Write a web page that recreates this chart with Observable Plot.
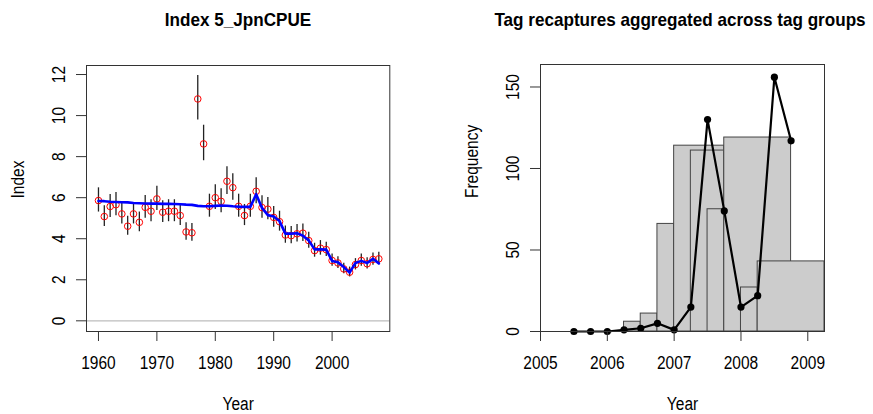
<!DOCTYPE html>
<html><head><meta charset="utf-8">
<script src="https://cdn.jsdelivr.net/npm/d3@7"></script>
<script src="https://cdn.jsdelivr.net/npm/@observablehq/plot@0.6"></script>
<style>
body{margin:0;background:#fff;}
#wrap{position:relative;width:873px;height:414px;overflow:hidden;font-family:"Liberation Sans",Arial,sans-serif;background:#fff;}
.panel{position:absolute;top:0;}
.title{position:absolute;top:9px;font-weight:bold;font-size:19px;line-height:22px;white-space:nowrap;transform:translateX(-50%) scaleX(0.9);color:#000;}
</style></head>
<body><div id="wrap"></div>
<script>
// ---------- Left panel: Index 5_JpnCPUE ----------
const years = [1960,1961,1962,1963,1964,1965,1966,1967,1968,1969,1970,1971,1972,1973,1974,1975,1976,1977,1978,1979,1980,1981,1982,1983,1984,1985,1986,1987,1988,1989,1990,1991,1992,1993,1994,1995,1996,1997,1998,1999,2000,2001,2002,2003,2004,2005,2006,2007,2008];
const observed = [5.86,5.08,5.57,5.66,5.21,4.61,5.21,4.80,5.53,5.34,5.94,5.29,5.34,5.34,5.13,4.33,4.29,10.81,8.62,5.58,6.00,5.82,6.80,6.49,5.58,5.13,5.58,6.31,5.52,5.44,5.04,4.83,4.18,4.15,4.24,4.27,3.91,3.42,3.54,3.47,2.94,2.82,2.53,2.37,2.74,2.94,2.78,2.99,3.02];
const upper = [6.48,5.61,6.15,6.25,5.76,5.09,5.76,5.30,6.11,5.90,6.56,5.85,5.90,5.90,5.67,4.78,4.74,11.95,9.53,6.17,6.63,6.43,7.51,7.17,6.17,5.67,6.17,6.97,6.10,6.01,5.57,5.34,4.62,4.59,4.69,4.72,4.32,3.78,3.91,3.83,3.25,3.12,2.80,2.62,3.03,3.25,3.07,3.30,3.34];
const lower = [5.30,4.60,5.04,5.12,4.72,4.17,4.72,4.34,5.00,4.83,5.38,4.79,4.83,4.83,4.64,3.92,3.88,9.78,7.80,5.05,5.43,5.27,6.15,5.87,5.05,4.64,5.05,5.71,5.00,4.92,4.56,4.37,3.78,3.76,3.84,3.86,3.54,3.10,3.20,3.14,2.66,2.55,2.29,2.14,2.48,2.66,2.52,2.71,2.73];
const fitted = [5.84,5.83,5.80,5.79,5.78,5.77,5.74,5.73,5.72,5.71,5.71,5.70,5.70,5.69,5.68,5.66,5.65,5.60,5.58,5.58,5.60,5.62,5.61,5.58,5.56,5.55,5.55,6.17,5.50,5.15,5.08,4.86,4.25,4.25,4.27,4.15,3.92,3.48,3.48,3.47,2.92,2.85,2.62,2.35,2.82,2.92,2.82,3.02,2.80];
const leftXTicks = [1960,1970,1980,1990,2000];
const leftYTicks = [0,2,4,6,8,10,12];

// ---------- Right panel: tag recaptures ----------
const tagTime = [2005.5,2005.75,2006,2006.25,2006.5,2006.75,2007,2007.25,2007.5,2007.75,2008,2008.25,2008.5,2008.75];
const tagCount = [0,0,0,1,2,5,1,15,130,74,15,22,156,117];
const barStart = [2006.25,2006.5,2006.75,2007.0,2007.25,2007.5,2007.75,2008.0,2008.25];
const barEnd   = [2006.5,2006.75,2007.0,2007.75,2007.75,2007.75,2008.75,2008.25,2009.25];
const barHeight = [6,11,66,114,111,75,119,27,43];
const rightXTicks = [2005,2006,2007,2008,2009];
const rightYTicks = [0,50,100,150];

const titles = ["Index 5_JpnCPUE", "Tag recaptures aggregated across tag groups"];

const idx = years.map((y,i)=>({year:y, obs:observed[i], hi:upper[i], lo:lower[i], fit:fitted[i]}));
const tags = tagTime.map((t,i)=>({t, n:tagCount[i]}));
const bars = barStart.map((s,i)=>({start:s, end:barEnd[i], h:barHeight[i]}));

const font = {fontFamily:"'Liberation Sans', Arial, sans-serif", fontSize:"18px", color:"#000", background:"transparent", overflow:"visible"};

function yLabels(ticks){
  return Plot.text(ticks,{y:d=>d, text:d=>String(d), frameAnchor:"left", dx:-27, rotate:-90, lineAnchor:"middle", textAnchor:"middle", fill:"#000"});
}

const leftPlot = Plot.plot({
  width:436, height:414,
  marginLeft:86, marginRight:46.7, marginTop:65, marginBottom:83,
  style:font,
  x:{domain:[1957.95,2009.88]},
  y:{domain:[-0.52,12.44]},
  marks:[
    Plot.ruleY([0],{stroke:"#bdbdbd", strokeWidth:1.2}),
    Plot.ruleX(idx,{x:"year", y1:"lo", y2:"hi", stroke:"#222", strokeWidth:1.3}),
    Plot.dot(idx,{x:"year", y:"obs", r:3.3, stroke:"red", fill:"none", strokeWidth:1}),
    Plot.line(idx,{x:"year", y:"fit", stroke:"blue", strokeWidth:2.6}),
    Plot.frame({stroke:"#333"}),
    Plot.axisX({ticks:leftXTicks, tickFormat:d=>String(d), tickSize:10, tickPadding:15, label:null, stroke:"#333"}),
    Plot.axisY({ticks:leftYTicks, tickFormat:()=>"", tickSize:10, label:null, stroke:"#333"}),
    yLabels(leftYTicks),
    Plot.text(["Index"],{frameAnchor:"left", dx:-68, rotate:-90, lineAnchor:"middle", fill:"#000"}),
    Plot.text(["Year"],{frameAnchor:"bottom", dy:73, lineAnchor:"middle", fill:"#000"})
  ]
});

const rightPlot = Plot.plot({
  width:437, height:414,
  marginLeft:104, marginRight:49, marginTop:64, marginBottom:83,
  style:font,
  x:{domain:[2005,2009.25]},
  y:{domain:[0,163.8]},
  marks:[
    Plot.rect(bars,{x1:"start", x2:"end", y1:0, y2:"h", fill:"#cccccc", stroke:"#444", strokeWidth:1}),
    Plot.line(tags,{x:"t", y:"n", stroke:"#000", strokeWidth:2.2}),
    Plot.dot(tags,{x:"t", y:"n", r:3.6, fill:"#000", stroke:"none"}),
    Plot.frame({stroke:"#333"}),
    Plot.axisX({ticks:rightXTicks, tickFormat:d=>String(d), tickSize:10, tickPadding:15, label:null, stroke:"#333"}),
    Plot.axisY({ticks:rightYTicks, tickFormat:()=>"", tickSize:10, label:null, stroke:"#333"}),
    yLabels(rightYTicks),
    Plot.text(["Frequency"],{frameAnchor:"left", dx:-68.5, rotate:-90, lineAnchor:"middle", fill:"#000"}),
    Plot.text(["Year"],{frameAnchor:"bottom", dy:73, lineAnchor:"middle", fill:"#000"})
  ]
});

const wrap = document.getElementById("wrap");
const p1 = document.createElement("div"); p1.className="panel"; p1.style.left="0px"; p1.appendChild(leftPlot);
const p2 = document.createElement("div"); p2.className="panel"; p2.style.left="436px"; p2.appendChild(rightPlot);
wrap.appendChild(p1); wrap.appendChild(p2);
[[titles[0],238],[titles[1],680]].forEach(([t,cx])=>{
  const d=document.createElement("div"); d.className="title"; d.textContent=t; d.style.left=cx+"px"; wrap.appendChild(d);
});
// condense glyphs slightly, like the narrow rendering of the original
wrap.querySelectorAll("svg text").forEach(el=>{
  const L = el.getComputedTextLength();
  if (L>0){ el.setAttribute("textLength", (L*0.86).toFixed(2)); el.setAttribute("lengthAdjust","spacingAndGlyphs"); }
});
</script>
</body></html>
